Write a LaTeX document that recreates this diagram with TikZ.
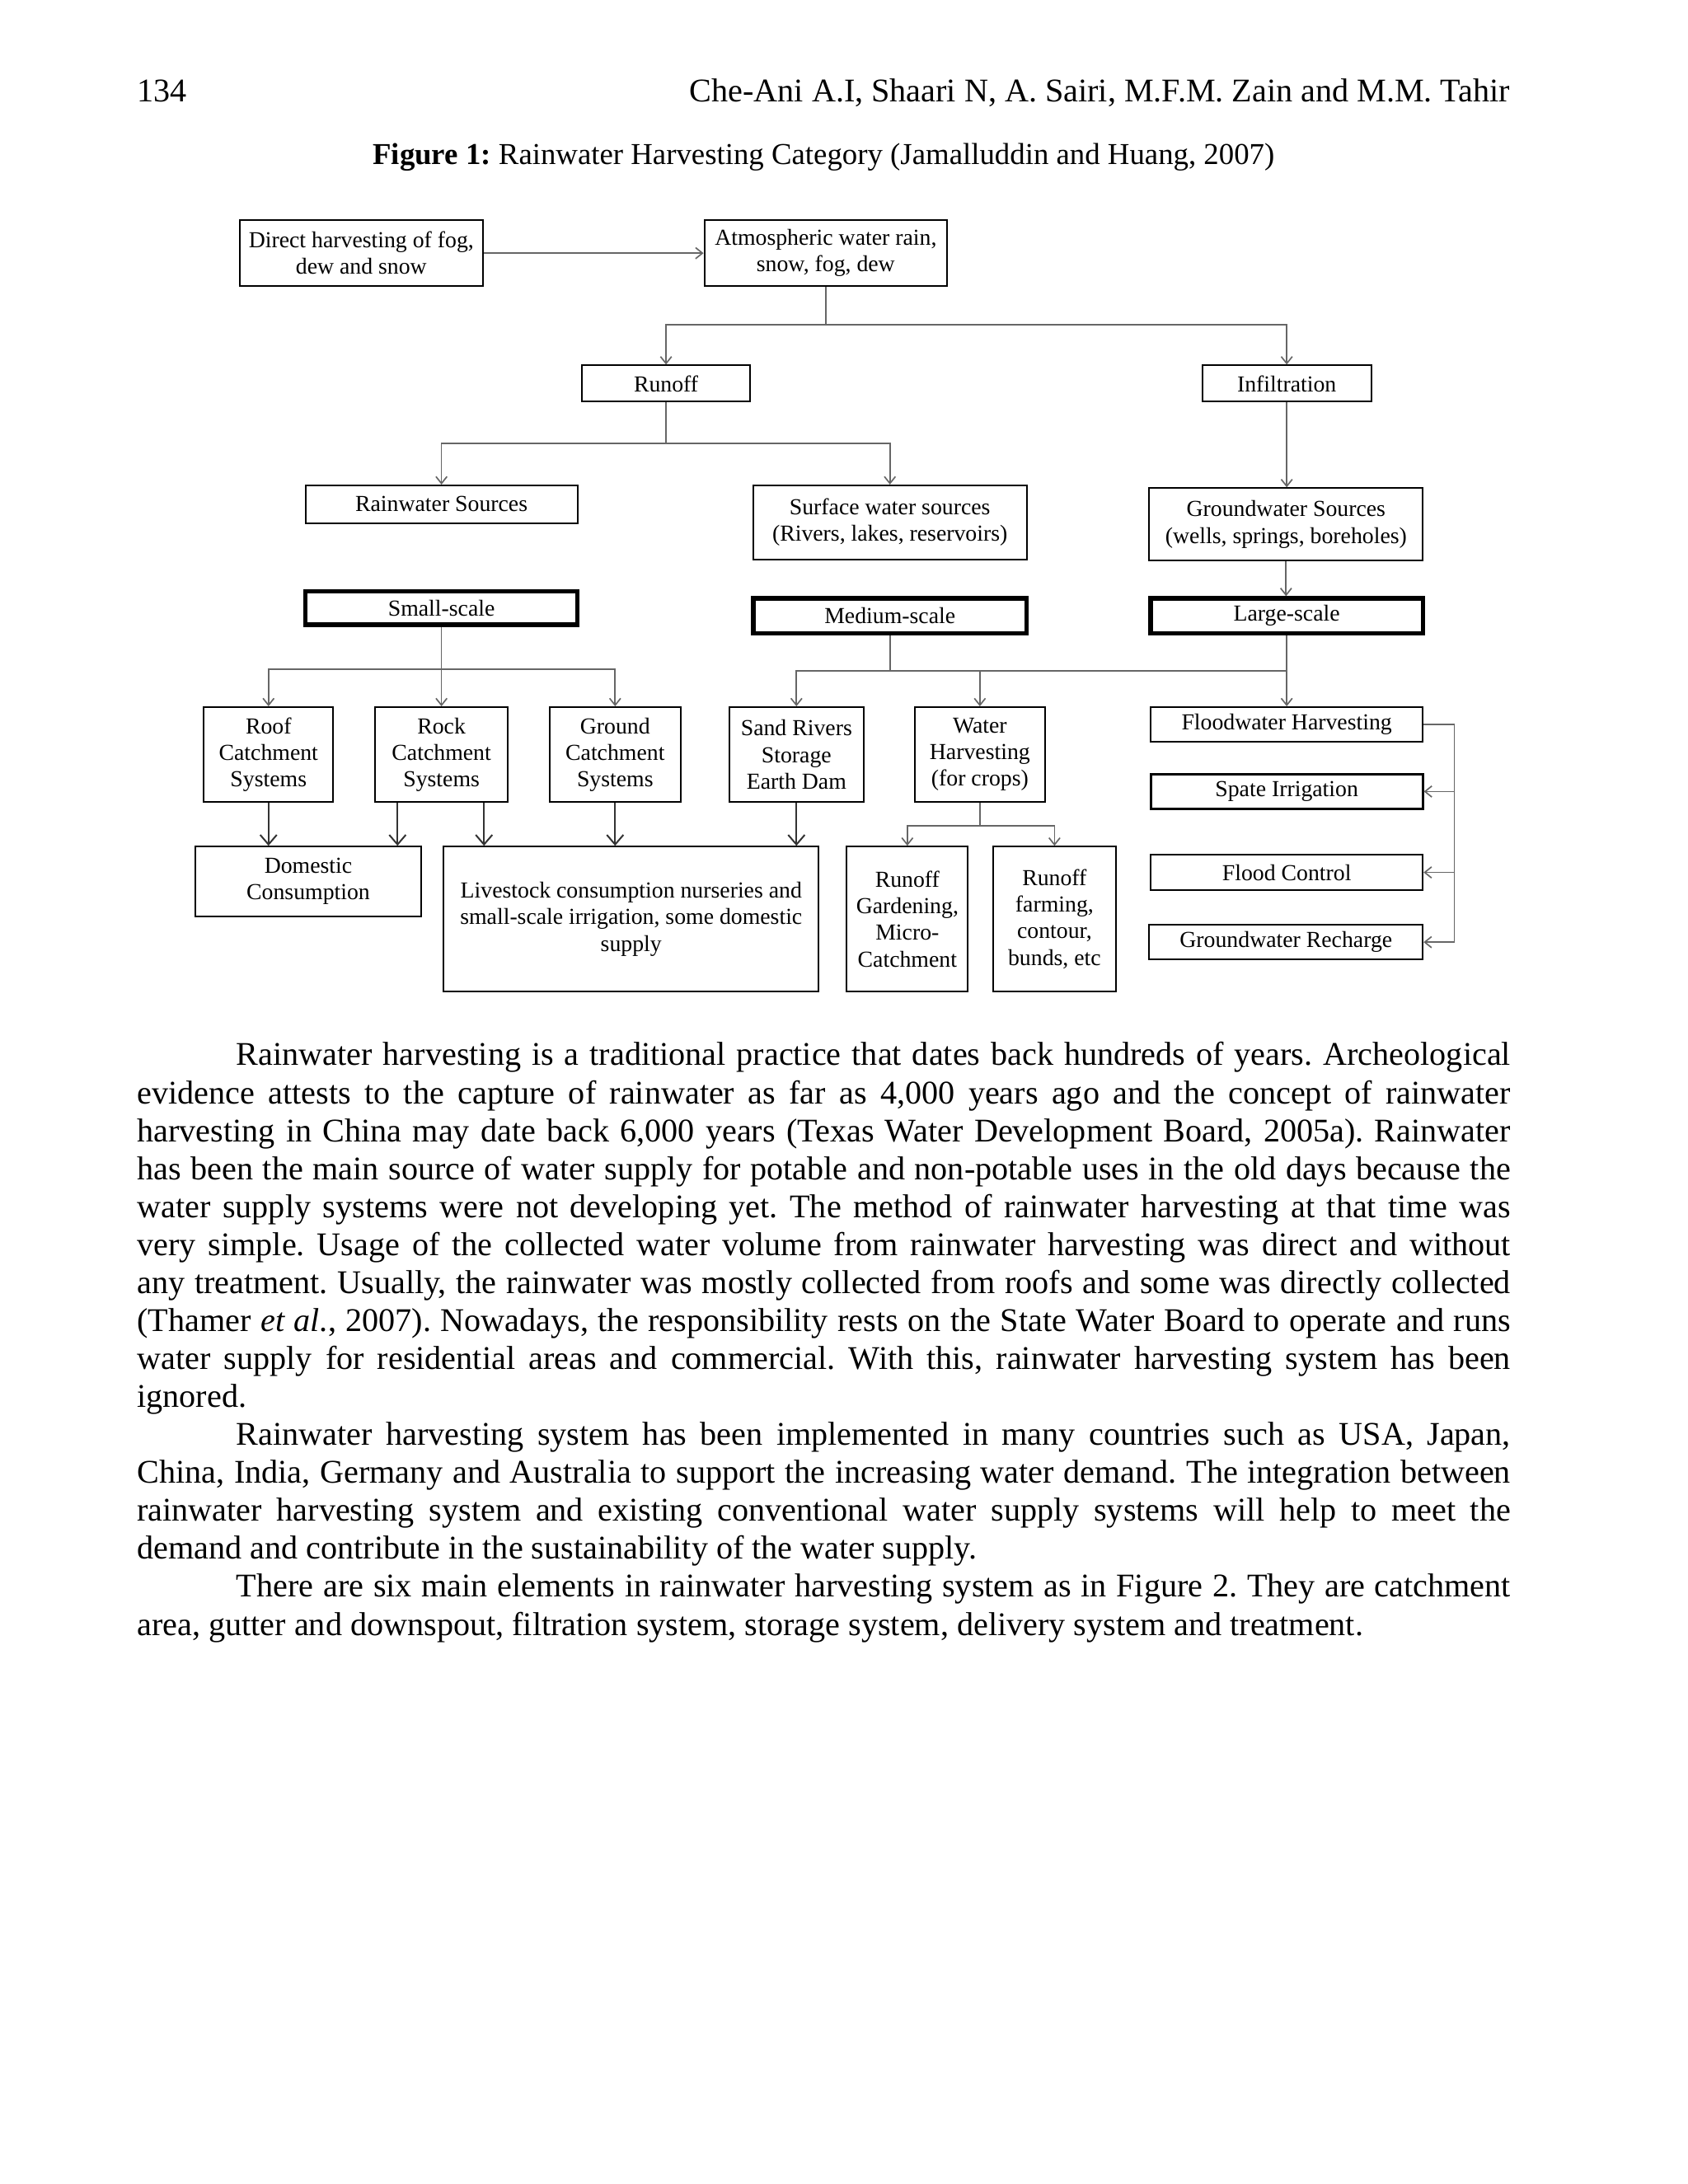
\documentclass[tikz,border=0pt]{standalone}
\usepackage{fontspec}
\setmainfont{Liberation Serif}
\usetikzlibrary{arrows.meta,calc}
\frenchspacing
\newcommand\dfont{\fontsize{8.3}{9.6}\selectfont}
\newcommand\bx[7][]{\node[box,#1,minimum width={(#5-#3)*0.505785pt},minimum height={(#6-#4)*0.505785pt}] (#2) at ({(#3+#5)/2},{(#4+#6)/2}) {#7};}
\begin{document}
\begin{tikzpicture}[x=0.505785pt,y=-0.505785pt,
  box/.style={draw=black,line width=0.6pt,inner sep=0pt,align=center,font=\dfont},
  scalebox/.style={line width=1.6pt},
  conn/.style={draw=black!60,line width=0.5pt},
  arr/.style={conn,-{Straight Barb[length=2.5pt,width=4pt]}},
  arrb/.style={draw=black!80,line width=0.6pt,-{Straight Barb[length=3.5pt,width=6pt]}}]
\fill[white] (0,0) rectangle (1210,1565.9);
\useasboundingbox (0,0) rectangle (1210,1565.9);

% header
\node[anchor=base west,inner sep=0pt,font=\fontsize{12}{14}\selectfont] (pg) at (98,73) {134};
\node[anchor=base east,inner sep=0pt,font=\fontsize{12}{14}\selectfont] (auth) at (1083,73) {Che-Ani A.I, Shaari N, A. Sairi, M.F.M. Zain and M.M. Tahir};
\node[anchor=base,inner sep=0pt,font=\fontsize{11}{13}\selectfont] (cap) at (590.5,118) {\textbf{Figure 1:} Rainwater Harvesting Category (Jamalluddin and Huang, 2007)};

% boxes
\bx{direct}{172}{158}{346}{205}{Direct harvesting of fog,\\dew and snow}
\bx{atm}{505}{158}{679}{205}{Atmospheric water rain,\\snow, fog, dew}
\bx{runoff}{417}{262}{538}{288}{Runoff}
\bx{infil}{862}{262}{983}{288}{Infiltration}
\bx{rain}{219}{348}{414}{375}{Rainwater Sources}
\bx{surf}{540}{348}{736}{401}{Surface water sources\\(Rivers, lakes, reservoirs)}
\bx{gw}{824}{350}{1020}{402}{Groundwater Sources\\(wells, springs, boreholes)}
\bx[scalebox]{small}{219}{424}{414}{448}{Small-scale}
\bx[scalebox]{medium}{540}{429}{736}{454}{Medium-scale}
\bx[scalebox]{large}{825}{429}{1020}{454}{Large-scale}
\bx{roof}{146}{507}{239}{575}{Roof\\Catchment\\Systems}
\bx{rock}{269}{507}{364}{575}{Rock\\Catchment\\Systems}
\bx{ground}{394}{507}{488}{575}{Ground\\Catchment\\Systems}
\bx{sand}{523}{507}{619}{575}{Sand Rivers\\Storage\\Earth Dam}
\bx{wh}{656}{507}{749}{575}{Water\\Harvesting\\(for crops)}
\bx{flood}{825}{507}{1020}{532}{Floodwater Harvesting}
\bx[line width=0.8pt]{spate}{825}{555}{1020}{580}{Spate Irrigation}
\bx{fctrl}{825}{613}{1020}{638}{Flood Control}
\bx{gwr}{824}{663}{1020}{688}{Groundwater Recharge}
\bx{dom}{140}{607}{302}{657}{Domestic\\Consumption}
\bx{live}{318}{607}{587}{711}{Livestock consumption nurseries and\\small-scale irrigation, some domestic\\supply}
\bx{rg}{607}{607}{694}{711}{Runoff\\Gardening,\\Micro-\\Catchment}
\bx{rf}{712}{607}{800}{711}{Runoff\\farming,\\contour,\\bunds, etc}

% connectors
\draw[arr] (direct) -- (atm);
\coordinate (j1) at (atm.south |- 0,233);
\draw[conn] (atm.south) -- (j1);
\draw[arr] (j1) -| (runoff.north);
\draw[arr] (j1) -| (infil.north);
\coordinate (j2) at (runoff.south |- 0,318);
\draw[conn] (runoff.south) -- (j2);
\draw[arr] (j2) -| (rain.north);
\draw[arr] (j2) -| (surf.north);
\draw[arr] (infil.south) -- (infil.south |- gw.north);
\draw[arr] (gw.south) -- (gw.south |- large.north);
\coordinate (j3) at (small.south |- 0,480);
\draw[conn] (small.south) -- (j3);
\draw[arr] (j3) -- (j3 |- rock.north);
\draw[arr] (j3) -| (roof.north);
\draw[arr] (j3) -| (ground.north);
\coordinate (j4) at (medium.south |- 0,481);
\draw[conn] (medium.south) -- (j4);
\draw[conn] (j4) -- (j4 -| large.south);
\draw[arr] (j4) -| (sand.north);
\draw[arr] (j4) -| (wh.north);
\draw[arr] (large.south) -- (large.south |- flood.north);
\coordinate (j5) at (wh.south |- 0,592);
\draw[conn] (wh.south) -- (j5);
\draw[arr] (j5) -| (rg.north);
\draw[arr] (j5) -| (rf.north);
\draw[arrb] (roof.south) -- (roof.south |- dom.north);
\coordinate (rk1) at ($(rock.south)+(-31.5,0)$);
\coordinate (rk2) at ($(rock.south)+(30.5,0)$);
\draw[arrb] (rk1) -- (rk1 |- dom.north);
\draw[arrb] (rk2) -- (rk2 |- live.north);
\draw[arrb] (ground.south) -- (ground.south |- live.north);
\draw[arrb] (sand.south) -- (sand.south |- live.north);
\coordinate (b1) at ($(flood.east)+(22,0)$);
\draw[arr] (flood.east) -- (b1) |- (gwr.east);
\draw[arr] (b1 |- spate.east) -- (spate.east);
\draw[arr] (b1 |- fctrl.east) -- (fctrl.east);

% body text
\node[anchor=base west,inner sep=0pt,text width=498pt,align=justify,font=\fontsize{12}{13.77}\selectfont] (body) at (98,764) {%
\hspace*{36pt}Rainwater harvesting is a traditional practice that dates back hundreds of years. Archeological\linebreak
evidence attests to the capture of rainwater as far as 4,000 years ago and the concept of rainwater\linebreak
harvesting in China may date back 6,000 years (Texas Water Development Board, 2005a). Rainwater\linebreak
has been the main source of water supply for potable and non-potable uses in the old days because the\linebreak
water supply systems were not developing yet. The method of rainwater harvesting at that time was\linebreak
very simple. Usage of the collected water volume from rainwater harvesting was direct and without\linebreak
any treatment. Usually, the rainwater was mostly collected from roofs and some was directly collected\linebreak
(Thamer \textit{et al}., 2007). Nowadays, the responsibility rests on the State Water Board to operate and runs\linebreak
water supply for residential areas and commercial. With this, rainwater harvesting system has been\linebreak
ignored.\par
\hspace*{36pt}Rainwater harvesting system has been implemented in many countries such as USA, Japan,\linebreak
China, India, Germany and Australia to support the increasing water demand. The integration between\linebreak
rainwater harvesting system and existing conventional water supply systems will help to meet the\linebreak
demand and contribute in the sustainability of the water supply.\par
\hspace*{36pt}There are six main elements in rainwater harvesting system as in Figure 2. They are catchment\linebreak
area, gutter and downspout, filtration system, storage system, delivery system and treatment.\par};
\end{tikzpicture}
\end{document}
